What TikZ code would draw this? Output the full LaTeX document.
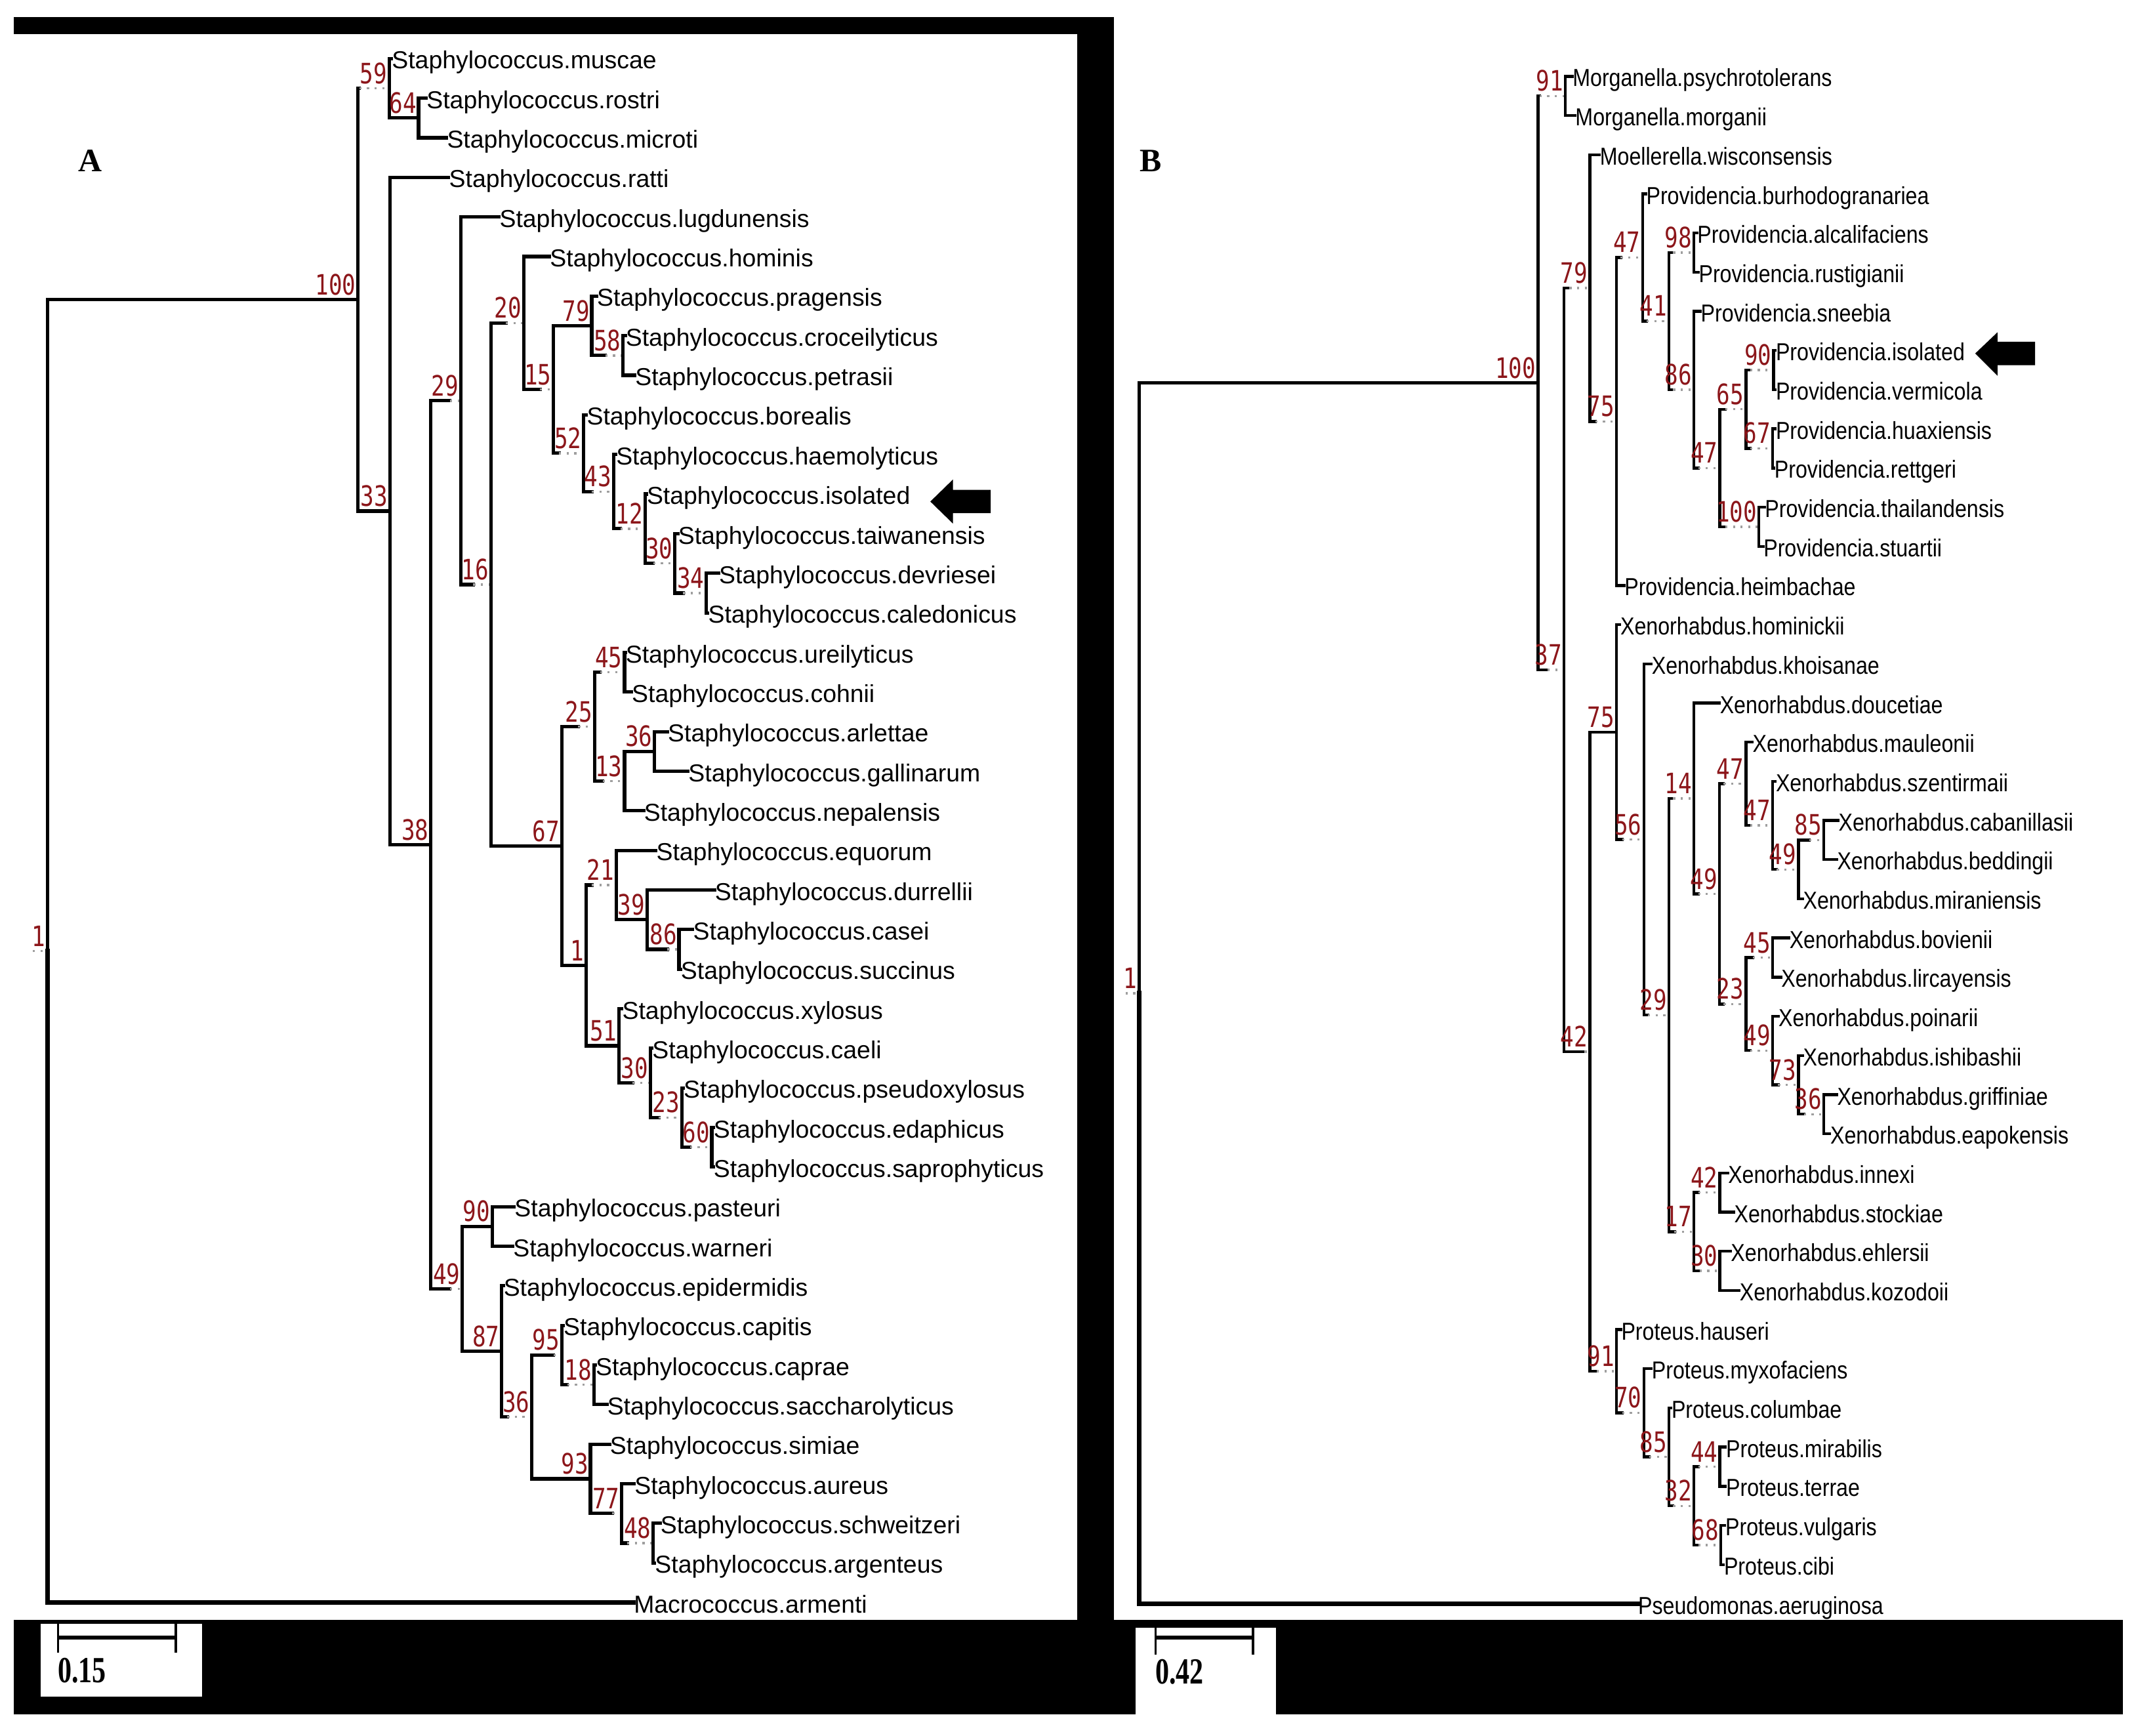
\documentclass[tikz,border=0pt]{standalone}
\usepackage{fontspec}
\setmainfont{Liberation Sans}
\newfontfamily\taxafontA{Liberation Sans}
\newfontfamily\taxafontB[FakeStretch=0.86]{Liberation Sans}
\newfontfamily\bootfont[FakeStretch=0.8]{DejaVu Sans Mono}
\newfontfamily\panelfont{Liberation Serif}
\newfontfamily\barfont[FakeStretch=0.75]{Liberation Serif}
\usetikzlibrary{calc}
\definecolor{bootred}{RGB}{140,22,26}
% branch: solid part of length #3, dotted rest up to the child
\newcommand{\clade}[3]{%
  \draw[branch] (#1) |- ($(#1|-#2)+(#3,0)$);
  \draw[stub] ($(#1|-#2)+(#3,0)$) -- (#2);}
\newcommand{\tip}[2]{\draw[branch] (#1) |- (#2.west);}
\newcommand{\bs}[2]{\node[boot] (l#1) at ([xshift=-0.6pt,yshift=1.6pt]#1) {#2};}
\begin{document}
\begin{tikzpicture}[x=0.5pt, y=-0.5pt,
  branch/.style={line width=1.25pt, line cap=rect},
  stub/.style={gray!75, line width=0.8pt, dotted},
  taxaA/.style={anchor=west, inner sep=0pt, text height=7.5pt, text depth=0pt, font=\taxafontA\fontsize{9}{10}\selectfont},
  taxaB/.style={taxaA, font=\taxafontB\fontsize{9}{10}\selectfont},
  boot/.style={anchor=south east, inner sep=0pt, text depth=0pt, text=bootred, font=\bootfont\fontsize{10.3}{11}\selectfont},
  panel/.style={inner sep=0pt, font=\panelfont\bfseries\fontsize{12}{14}\selectfont},
  barlabel/.style={anchor=west, inner sep=0pt, font=\barfont\bfseries\fontsize{13.5}{15}\selectfont},
  scalebar/.style={line width=1.5pt},
  scaletick/.style={line width=0.8pt}]
\fill[white] (0,0) rectangle (1568,1273);
\useasboundingbox (0,0) rectangle (1568,1273);
% frames
\fill (10,12.5) rectangle (817,25);
\fill (790,12.5) rectangle (817,1188);
\fill (10,1188) rectangle (833,1257);
\fill (817,1188) rectangle (1557,1257);
\fill[white] (29.6,1191) rectangle (148.2,1244);
\fill[white] (833,1193.5) rectangle (936,1257);
\node[panel] (labA) at (66,118) {A};
\node[panel] (labB) at (844,118) {B};
% scale bars
\coordinate (barA1) at (42.5,1201); \coordinate (barA2) at (129,1201);
\draw[scalebar] (barA1) -- (barA2);
\draw[scaletick] ([yshift=5pt]barA1) -- ([yshift=-5.5pt]barA1);
\draw[scaletick] ([yshift=5pt]barA2) -- ([yshift=-5.5pt]barA2);
\node[barlabel] (lenA) at (42,1225) {0.15};
\coordinate (barB1) at (847.5,1201); \coordinate (barB2) at (919,1201);
\draw[scalebar] (barB1) -- (barB2);
\draw[scaletick] ([yshift=3.75pt]barB1) -- ([yshift=-6.25pt]barB1);
\draw[scaletick] ([yshift=3.75pt]barB2) -- ([yshift=-6.25pt]barB2);
\node[barlabel] (lenB) at (847,1226) {0.42};
% arrows at the isolates
\fill (682.3,367.8) -- (698.9,351.6) -- (698.9,359.2) -- (726.5,359.2) -- (726.5,376.3) -- (698.9,376.3) -- (698.9,384) -- cycle;
\fill (1448.6,259.2) -- (1464.9,243.7) -- (1464.9,250.6) -- (1492.5,250.6) -- (1492.5,267.8) -- (1464.9,267.8) -- (1464.9,275.5) -- cycle;

% ---------------- panel A ----------------
\begin{scope}[y=-14.515pt, yshift=-6.985pt]
\node[taxaA] (muscae) at (287,1) {Staphylococcus.muscae};
\node[taxaA] (rostri) at (312.5,2) {Staphylococcus.rostri};
\node[taxaA] (microti) at (327.5,3) {Staphylococcus.microti};
\node[taxaA] (ratti) at (329,4) {Staphylococcus.ratti};
\node[taxaA] (lugdunensis) at (366,5) {Staphylococcus.lugdunensis};
\node[taxaA] (hominis) at (403,6) {Staphylococcus.hominis};
\node[taxaA] (pragensis) at (437.5,7) {Staphylococcus.pragensis};
\node[taxaA] (croceilyticus) at (458.5,8) {Staphylococcus.croceilyticus};
\node[taxaA] (petrasii) at (465.5,9) {Staphylococcus.petrasii};
\node[taxaA] (borealis) at (430,10) {Staphylococcus.borealis};
\node[taxaA] (haemolyticus) at (451.5,11) {Staphylococcus.haemolyticus};
\node[taxaA] (isolatedS) at (474,12) {Staphylococcus.isolated};
\node[taxaA] (taiwanensis) at (497,13) {Staphylococcus.taiwanensis};
\node[taxaA] (devriesei) at (527,14) {Staphylococcus.devriesei};
\node[taxaA] (caledonicus) at (519,15) {Staphylococcus.caledonicus};
\node[taxaA] (ureilyticus) at (458.5,16) {Staphylococcus.ureilyticus};
\node[taxaA] (cohnii) at (463,17) {Staphylococcus.cohnii};
\node[taxaA] (arlettae) at (489.5,18) {Staphylococcus.arlettae};
\node[taxaA] (gallinarum) at (504.5,19) {Staphylococcus.gallinarum};
\node[taxaA] (nepalensis) at (472,20) {Staphylococcus.nepalensis};
\node[taxaA] (equorum) at (481,21) {Staphylococcus.equorum};
\node[taxaA] (durrellii) at (524,22) {Staphylococcus.durrellii};
\node[taxaA] (casei) at (508,23) {Staphylococcus.casei};
\node[taxaA] (succinus) at (499,24) {Staphylococcus.succinus};
\node[taxaA] (xylosus) at (456,25) {Staphylococcus.xylosus};
\node[taxaA] (caeli) at (478,26) {Staphylococcus.caeli};
\node[taxaA] (pseudoxylosus) at (501,27) {Staphylococcus.pseudoxylosus};
\node[taxaA] (edaphicus) at (523,28) {Staphylococcus.edaphicus};
\node[taxaA] (saprophyticus) at (523,29) {Staphylococcus.saprophyticus};
\node[taxaA] (pasteuri) at (377,30) {Staphylococcus.pasteuri};
\node[taxaA] (warneri) at (376,31) {Staphylococcus.warneri};
\node[taxaA] (epidermidis) at (369,32) {Staphylococcus.epidermidis};
\node[taxaA] (capitis) at (413,33) {Staphylococcus.capitis};
\node[taxaA] (caprae) at (436.5,34) {Staphylococcus.caprae};
\node[taxaA] (saccharolyticus) at (445,35) {Staphylococcus.saccharolyticus};
\node[taxaA] (simiae) at (447,36) {Staphylococcus.simiae};
\node[taxaA] (aureus) at (465,37) {Staphylococcus.aureus};
\node[taxaA] (schweitzeri) at (484,38) {Staphylococcus.schweitzeri};
\node[taxaA] (argenteus) at (480,39) {Staphylococcus.argenteus};
\node[taxaA] (armenti) at (464.5,40) {Macrococcus.armenti};
\coordinate (aR) at (35,23.5450);
\coordinate (a100) at (262.5,7.0901);
\coordinate (a59) at (285.5,1.75);
\coordinate (a64) at (307,2.5);
\coordinate (a33) at (286,12.4302);
\coordinate (a38) at (316,20.8604);
\coordinate (a29) at (338,9.6426);
\coordinate (a16) at (360,14.2852);
\coordinate (a20) at (384,7.6797);
\coordinate (a15) at (406,9.3594);
\coordinate (a79) at (434,7.75);
\coordinate (a58) at (457,8.5);
\coordinate (a52) at (428,10.9688);
\coordinate (a43) at (450,11.9375);
\coordinate (a12) at (473,12.875);
\coordinate (a30t) at (495,13.75);
\coordinate (a34) at (518,14.5);
\coordinate (a67) at (412,20.8906);
\coordinate (a25) at (436,17.875);
\coordinate (a45) at (458,16.5);
\coordinate (a13) at (458,19.25);
\coordinate (a36) at (480,18.5);
\coordinate (a1) at (430,23.9063);
\coordinate (a21) at (452,21.875);
\coordinate (a39) at (474.5,22.75);
\coordinate (a86) at (498,23.5);
\coordinate (a51) at (454,25.9375);
\coordinate (a30c) at (477,26.875);
\coordinate (a23) at (500,27.75);
\coordinate (a60) at (522,28.5);
\coordinate (a49) at (339,32.0781);
\coordinate (a90) at (361,30.5);
\coordinate (a87) at (368,33.6563);
\coordinate (a36c) at (390,35.3125);
\coordinate (a95) at (412,33.75);
\coordinate (a18) at (435.5,34.5);
\coordinate (a93) at (433,36.875);
\coordinate (a77) at (456,37.75);
\coordinate (a48) at (479,38.5);
% branches
\draw[stub] ([xshift=-5.5pt]aR) -- (aR);
\draw[branch] (aR) |- (a100);
\draw[branch, line width=1.7pt] (aR) |- (armenti.west);
\clade{a100}{a59}{1} \draw[branch] (a100) |- (a33);
\tip{a59}{muscae} \draw[branch] (a59) |- (a64);
\tip{a64}{rostri} \tip{a64}{microti}
\tip{a33}{ratti} \draw[branch] (a33) |- (a38);
\clade{a38}{a29}{14} \clade{a38}{a49}{14}
\tip{a29}{lugdunensis} \clade{a29}{a16}{9}
\clade{a16}{a20}{11} \draw[branch] (a16) |- (a67);
\tip{a20}{hominis} \clade{a20}{a15}{12}
\draw[branch] (a15) |- (a79); \clade{a15}{a52}{4}
\tip{a79}{pragensis} \clade{a79}{a58}{10}
\tip{a58}{croceilyticus} \tip{a58}{petrasii}
\tip{a52}{borealis} \clade{a52}{a43}{6}
\tip{a43}{haemolyticus} \clade{a43}{a12}{5}
\tip{a12}{isolatedS} \clade{a12}{a30t}{6}
\tip{a30t}{taiwanensis} \clade{a30t}{a34}{6}
\tip{a34}{devriesei} \tip{a34}{caledonicus}
\clade{a67}{a25}{12} \draw[branch] (a67) |- (a1);
\clade{a25}{a45}{4} \clade{a25}{a13}{6}
\tip{a45}{ureilyticus} \tip{a45}{cohnii}
\draw[branch] (a13) |- (a36); \tip{a13}{nepalensis}
\tip{a36}{arlettae} \tip{a36}{gallinarum}
\clade{a1}{a21}{4} \draw[branch] (a1) |- (a51);
\tip{a21}{equorum} \draw[branch] (a21) |- (a39);
\tip{a39}{durrellii} \clade{a39}{a86}{15}
\tip{a86}{casei} \tip{a86}{succinus}
\tip{a51}{xylosus} \clade{a51}{a30c}{10}
\tip{a30c}{caeli} \clade{a30c}{a23}{6}
\tip{a23}{pseudoxylosus} \clade{a23}{a60}{6}
\tip{a60}{edaphicus} \tip{a60}{saprophyticus}
\draw[branch] (a49) |- (a90); \draw[branch] (a49) |- (a87);
\tip{a90}{pasteuri} \tip{a90}{warneri}
\tip{a87}{epidermidis} \clade{a87}{a36c}{4}
\clade{a36c}{a95}{16} \draw[branch] (a36c) |- (a93);
\tip{a95}{capitis} \clade{a95}{a18}{4}
\tip{a18}{caprae} \tip{a18}{saccharolyticus}
\tip{a93}{simiae} \clade{a93}{a77}{16}
\tip{a77}{aureus} \clade{a77}{a48}{4}
\tip{a48}{schweitzeri} \tip{a48}{argenteus}
% bootstrap values
\bs{aR}{1} \bs{a100}{100} \bs{a59}{59} \bs{a64}{64} \bs{a33}{33}
\bs{a38}{38} \bs{a29}{29} \bs{a16}{16} \bs{a20}{20} \bs{a15}{15}
\bs{a79}{79} \bs{a58}{58} \bs{a52}{52} \bs{a43}{43} \bs{a12}{12}
\bs{a30t}{30} \bs{a34}{34} \bs{a67}{67} \bs{a25}{25} \bs{a45}{45}
\bs{a13}{13} \bs{a36}{36} \bs{a1}{1} \bs{a21}{21} \bs{a39}{39}
\bs{a86}{86} \bs{a51}{51} \bs{a30c}{30} \bs{a23}{23} \bs{a60}{60}
\bs{a49}{49} \bs{a90}{90} \bs{a87}{87} \bs{a36c}{36} \bs{a95}{95}
\bs{a18}{18} \bs{a93}{93} \bs{a77}{77} \bs{a48}{48}
\end{scope}

% ---------------- panel B ----------------
\begin{scope}[y=-14.36pt, yshift=-13.64pt, branch/.append style={line width=1.05pt}]
\node[taxaB] (psychrotolerans) at (1153,1) {Morganella.psychrotolerans};
\node[taxaB] (morganii) at (1155,2) {Morganella.morganii};
\node[taxaB] (wisconsensis) at (1173,3) {Moellerella.wisconsensis};
\node[taxaB] (burhodogranariea) at (1207,4) {Providencia.burhodogranariea};
\node[taxaB] (alcalifaciens) at (1244.5,5) {Providencia.alcalifaciens};
\node[taxaB] (rustigianii) at (1245.5,6) {Providencia.rustigianii};
\node[taxaB] (sneebia) at (1247,7) {Providencia.sneebia};
\node[taxaB] (isolatedP) at (1302,8) {Providencia.isolated};
\node[taxaB] (vermicola) at (1302,9) {Providencia.vermicola};
\node[taxaB] (huaxiensis) at (1302,10) {Providencia.huaxiensis};
\node[taxaB] (rettgeri) at (1301,11) {Providencia.rettgeri};
\node[taxaB] (thailandensis) at (1294,12) {Providencia.thailandensis};
\node[taxaB] (stuartii) at (1293,13) {Providencia.stuartii};
\node[taxaB] (heimbachae) at (1191,14) {Providencia.heimbachae};
\node[taxaB] (hominickii) at (1188,15) {Xenorhabdus.hominickii};
\node[taxaB] (khoisanae) at (1211,16) {Xenorhabdus.khoisanae};
\node[taxaB] (doucetiae) at (1261,17) {Xenorhabdus.doucetiae};
\node[taxaB] (mauleonii) at (1285,18) {Xenorhabdus.mauleonii};
\node[taxaB] (szentirmaii) at (1302,19) {Xenorhabdus.szentirmaii};
\node[taxaB] (cabanillasii) at (1348,20) {Xenorhabdus.cabanillasii};
\node[taxaB] (beddingii) at (1347,21) {Xenorhabdus.beddingii};
\node[taxaB] (miraniensis) at (1322,22) {Xenorhabdus.miraniensis};
\node[taxaB] (bovienii) at (1312,23) {Xenorhabdus.bovienii};
\node[taxaB] (lircayensis) at (1306,24) {Xenorhabdus.lircayensis};
\node[taxaB] (poinarii) at (1304,25) {Xenorhabdus.poinarii};
\node[taxaB] (ishibashii) at (1322,26) {Xenorhabdus.ishibashii};
\node[taxaB] (griffiniae) at (1347,27) {Xenorhabdus.griffiniae};
\node[taxaB] (eapokensis) at (1342,28) {Xenorhabdus.eapokensis};
\node[taxaB] (innexi) at (1267,29) {Xenorhabdus.innexi};
\node[taxaB] (stockiae) at (1271.5,30) {Xenorhabdus.stockiae};
\node[taxaB] (ehlersii) at (1269,31) {Xenorhabdus.ehlersii};
\node[taxaB] (kozodoii) at (1275.5,32) {Xenorhabdus.kozodoii};
\node[taxaB] (hauseri) at (1188.7,33) {Proteus.hauseri};
\node[taxaB] (myxofaciens) at (1211,34) {Proteus.myxofaciens};
\node[taxaB] (columbae) at (1225.5,35) {Proteus.columbae};
\node[taxaB] (mirabilis) at (1265.5,36) {Proteus.mirabilis};
\node[taxaB] (terrae) at (1265.5,37) {Proteus.terrae};
\node[taxaB] (vulgaris) at (1265,38) {Proteus.vulgaris};
\node[taxaB] (cibi) at (1264,39) {Proteus.cibi};
\node[taxaB] (aeruginosa) at (1201,40) {Pseudomonas.aeruginosa};
\coordinate (bR) at (835.5,24.4136);
\coordinate (b100) at (1128,8.8271);
\coordinate (b91) at (1148,1.5);
\coordinate (b37) at (1147,16.1543);
\coordinate (b79) at (1166,6.4063);
\coordinate (b75) at (1185.6,9.8125);
\coordinate (b47) at (1204.6,5.625);
\coordinate (b41) at (1224,7.25);
\coordinate (b98) at (1242.4,5.5);
\coordinate (b86) at (1242.4,9);
\coordinate (b47p) at (1261.3,11);
\coordinate (b65) at (1280.5,9.5);
\coordinate (b90) at (1300.8,8.5);
\coordinate (b67) at (1300,10.5);
\coordinate (b100p) at (1290,12.5);
\coordinate (b42) at (1166,25.9023);
\coordinate (b75x) at (1185.6,17.7422);
\coordinate (b56) at (1205.6,20.4844);
\coordinate (b29) at (1224,24.9688);
\coordinate (b14) at (1242.4,19.4375);
\coordinate (b49x) at (1261,21.875);
\coordinate (b47a) at (1280.5,19.0625);
\coordinate (b47c) at (1300,20.125);
\coordinate (b49y) at (1319,21.25);
\coordinate (b85) at (1337.5,20.5);
\coordinate (b23) at (1280.5,24.6875);
\coordinate (b45) at (1300,23.5);
\coordinate (b49z) at (1300,25.875);
\coordinate (b73) at (1319,26.75);
\coordinate (b36) at (1337.5,27.5);
\coordinate (b17) at (1242.4,30.5);
\coordinate (b42x) at (1261.3,29.5);
\coordinate (b30) at (1261.3,31.5);
\coordinate (b91p) at (1185.6,34.0625);
\coordinate (b70) at (1205.6,35.125);
\coordinate (b85p) at (1224,36.25);
\coordinate (b32) at (1242.4,37.5);
\coordinate (b44) at (1261.3,36.5);
\coordinate (b68) at (1262,38.5);
% branches
\draw[stub] ([xshift=-5pt]bR) -- (bR);
\draw[branch] (bR) |- (b100);
\draw[branch, line width=1.7pt] (bR) |- (aeruginosa.west);
\clade{b100}{b91}{1} \clade{b100}{b37}{7}
\tip{b91}{psychrotolerans} \tip{b91}{morganii}
\clade{b37}{b79}{4} \clade{b37}{b42}{15}
\tip{b79}{wisconsensis} \clade{b79}{b75}{4}
\clade{b75}{b47}{3} \tip{b75}{heimbachae}
\tip{b47}{burhodogranariea} \clade{b47}{b41}{3}
\clade{b41}{b98}{3} \clade{b41}{b86}{3}
\tip{b98}{alcalifaciens} \tip{b98}{rustigianii}
\tip{b86}{sneebia} \clade{b86}{b47p}{3}
\clade{b47p}{b65}{4} \clade{b47p}{b100p}{4}
\clade{b65}{b90}{3} \clade{b65}{b67}{3}
\tip{b90}{isolatedP} \tip{b90}{vermicola}
\tip{b67}{huaxiensis} \tip{b67}{rettgeri}
\tip{b100p}{thailandensis} \tip{b100p}{stuartii}
\draw[branch] (b42) |- (b75x); \clade{b42}{b91p}{5}
\tip{b75x}{hominickii} \clade{b75x}{b56}{4}
\tip{b56}{khoisanae} \clade{b56}{b29}{3}
\clade{b29}{b14}{3} \clade{b29}{b17}{4}
\tip{b14}{doucetiae} \clade{b14}{b49x}{3}
\clade{b49x}{b47a}{3} \clade{b49x}{b23}{3}
\tip{b47a}{mauleonii} \clade{b47a}{b47c}{3}
\tip{b47c}{szentirmaii} \clade{b47c}{b49y}{3}
\clade{b49y}{b85}{8} \tip{b49y}{miraniensis}
\tip{b85}{cabanillasii} \tip{b85}{beddingii}
\clade{b23}{b45}{5} \clade{b23}{b49z}{3}
\tip{b45}{bovienii} \tip{b45}{lircayensis}
\tip{b49z}{poinarii} \clade{b49z}{b73}{4}
\tip{b73}{ishibashii} \clade{b73}{b36}{4}
\tip{b36}{griffiniae} \tip{b36}{eapokensis}
\clade{b17}{b42x}{3} \clade{b17}{b30}{4}
\tip{b42x}{innexi} \tip{b42x}{stockiae}
\tip{b30}{ehlersii} \tip{b30}{kozodoii}
\tip{b91p}{hauseri} \clade{b91p}{b70}{4}
\tip{b70}{myxofaciens} \clade{b70}{b85p}{4}
\tip{b85p}{columbae} \clade{b85p}{b32}{3}
\clade{b32}{b44}{3} \clade{b32}{b68}{3}
\tip{b44}{mirabilis} \tip{b44}{terrae}
\tip{b68}{vulgaris} \tip{b68}{cibi}
% bootstrap values
\bs{bR}{1} \bs{b100}{100} \bs{b91}{91} \bs{b37}{37} \bs{b79}{79}
\bs{b75}{75} \bs{b47}{47} \bs{b41}{41} \bs{b98}{98} \bs{b86}{86}
\bs{b47p}{47} \bs{b65}{65} \bs{b90}{90} \bs{b67}{67} \bs{b100p}{100}
\bs{b42}{42} \bs{b75x}{75} \bs{b56}{56} \bs{b29}{29} \bs{b14}{14}
\bs{b49x}{49} \bs{b47a}{47} \bs{b47c}{47} \bs{b49y}{49} \bs{b85}{85}
\bs{b23}{23} \bs{b45}{45} \bs{b49z}{49} \bs{b73}{73} \bs{b36}{36}
\bs{b17}{17} \bs{b42x}{42} \bs{b30}{30} \bs{b91p}{91} \bs{b70}{70}
\bs{b85p}{85} \bs{b32}{32} \bs{b44}{44} \bs{b68}{68}
\end{scope}
\end{tikzpicture}
\end{document}
